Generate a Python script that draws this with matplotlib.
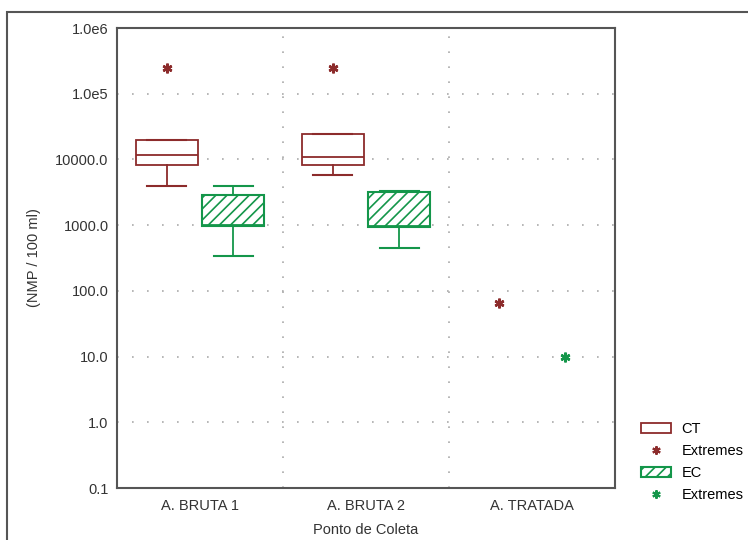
import matplotlib.pyplot as plt
from matplotlib.patches import Patch, Rectangle
from matplotlib.lines import Line2D

plt.rcParams['font.family'] = ['Liberation Sans', 'DejaVu Sans']
plt.rcParams['hatch.linewidth'] = 1.2

categories = ['A. BRUTA 1', 'A. BRUTA 2', 'A. TRATADA']
ytick_vals = [0.1, 1, 10, 100, 1000, 10000, 1e5, 1e6]
ytick_labels = ['0.1', '1.0', '10.0', '100.0', '1000.0', '10000.0', '1.0e5', '1.0e6']

# box statistics (A. BRUTA 1, A. BRUTA 2)
ct_whislo = [4000, 5700]
ct_q1 = [8100, 8100]
ct_med = [11500, 10700]
ct_q3 = [20000, 24000]
ct_whishi = [20000, 24500]

ec_whislo = [340, 450]
ec_q1 = [980, 950]
ec_med = [1000, 960]
ec_q3 = [2900, 3200]
ec_whishi = [4000, 3300]

# extremes (x = category index)
ct_ext_x = [0, 1, 2]
ct_ext_y = [250000, 250000, 65]
ec_ext_x = [2]
ec_ext_y = [10]

ct_color = '#8c2b2b'
ec_color = '#14964a'
txt = '#333333'
fs = 10.5

fig = plt.figure(figsize=(7.48, 5.40), dpi=100)
ax = fig.add_axes([117/748, 1 - 488/540, (615 - 117)/748, (488 - 28)/540])

def stats(lo, q1, med, q3, hi):
    return [dict(whislo=a, q1=b, med=c, q3=d, whishi=e, fliers=[])
            for a, b, c, d, e in zip(lo, q1, med, q3, hi)]

off = 0.2
w = 0.37
ax.bxp(stats(ct_whislo, ct_q1, ct_med, ct_q3, ct_whishi),
       positions=[i - off for i in range(2)], widths=w, patch_artist=True,
       showfliers=False, capwidths=w * 0.63,
       boxprops=dict(facecolor='white', edgecolor=ct_color, linewidth=1.3),
       medianprops=dict(color=ct_color, linewidth=1.3),
       whiskerprops=dict(color=ct_color, linewidth=1.3),
       capprops=dict(color=ct_color, linewidth=1.5))
ax.bxp(stats(ec_whislo, ec_q1, ec_med, ec_q3, ec_whishi),
       positions=[i + off for i in range(2)], widths=w, patch_artist=True,
       showfliers=False, capwidths=w * 0.63,
       boxprops=dict(facecolor='white', edgecolor=ec_color, linewidth=1.5, hatch='///'),
       medianprops=dict(color=ec_color, linewidth=2.0),
       whiskerprops=dict(color=ec_color, linewidth=1.3),
       capprops=dict(color=ec_color, linewidth=1.5))

ax.plot([x - off for x in ct_ext_x], ct_ext_y, linestyle='none', marker=(6, 2, 0),
        markersize=7, color=ct_color, markeredgewidth=1.8)
ax.plot([x + off for x in ec_ext_x], ec_ext_y, linestyle='none', marker=(6, 2, 0),
        markersize=7, color=ec_color, markeredgewidth=1.8)

ax.set_yscale('log')
ax.set_ylim(0.1, 1e6)
ax.set_xlim(-0.5, 2.5)
ax.set_yticks(ytick_vals)
ax.set_yticklabels(ytick_labels)
ax.minorticks_off()
ax.set_xticks(range(3))
ax.set_xticklabels(categories)
ax.set_xticks([0.5, 1.5], minor=True)
ax.tick_params(axis='y', which='both', length=0, labelsize=fs, colors=txt, pad=6)
ax.tick_params(axis='x', which='both', length=0, labelsize=fs, colors=txt, pad=8)
ax.grid(True, axis='y', which='major', color='#aaaaaa', linestyle=(0, (1, 8)), linewidth=1.2)
ax.grid(True, axis='x', which='minor', color='#aaaaaa', linestyle=(0, (1, 8)), linewidth=1.2)
ax.set_axisbelow(True)
for s in ax.spines.values():
    s.set_color('#555555')
    s.set_linewidth(1.5)

ax.set_ylabel('(NMP / 100 ml)', fontsize=fs, color=txt, labelpad=10)
ax.set_xlabel('Ponto de Coleta', fontsize=fs, color=txt, labelpad=7)

handles = [
    Patch(facecolor='white', edgecolor=ct_color, linewidth=1.3),
    Line2D([], [], linestyle='none', marker=(6, 2, 0), markersize=6, color=ct_color, markeredgewidth=1.5),
    Patch(facecolor='white', edgecolor=ec_color, linewidth=1.5, hatch='///'),
    Line2D([], [], linestyle='none', marker=(6, 2, 0), markersize=6, color=ec_color, markeredgewidth=1.5),
]
fig.legend(handles, ['CT', 'Extremes', 'EC', 'Extremes'], loc='upper left',
           bbox_to_anchor=(635/748, 1 - 416/540), frameon=False, fontsize=fs,
           handlelength=2.1, handleheight=0.7, labelspacing=0.55, handletextpad=0.7,
           borderaxespad=0)

fig.patches.append(Rectangle((7/748, -0.1), 1, 1 - 12/540 + 0.1, transform=fig.transFigure,
                             fill=False, edgecolor='#555555', linewidth=1.5))

fig.savefig('out.png', dpi=100)
